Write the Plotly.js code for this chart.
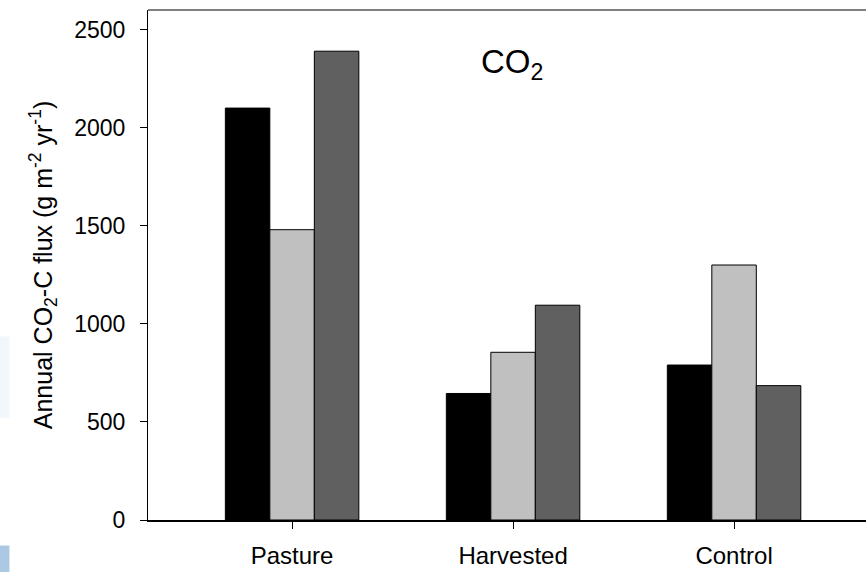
<!DOCTYPE html>
<html>
<head>
<meta charset="utf-8">
<script src="https://cdn.plot.ly/plotly-3.0.1.min.js"></script>
<style>html,body{margin:0;padding:0;background:#fff;}#chart{width:866px;height:572px;}</style>
</head>
<body>
<div id="chart"></div>
<script>
var categories = ["Pasture", "Harvested", "Control"];
var seriesNames = ["Series 1", "Series 2", "Series 3"];
var series1 = [2100, 645, 790];
var series2 = [1480, 855, 1300];
var series3 = [2390, 1095, 685];
var seriesColors = ["#000000", "#c0c0c0", "#606060"];
var yTickVals = [0, 500, 1000, 1500, 2000, 2500];

var FONT = "Liberation Sans, Arial, sans-serif";
var allSeries = [series1, series2, series3];
var traces = allSeries.map(function (vals, i) {
  return {
    type: "bar",
    name: seriesNames[i],
    x: categories,
    y: vals,
    marker: { color: seriesColors[i], line: { color: "#000000", width: 1 } },
    hoverinfo: "x+y"
  };
});

var layout = {
  width: 866,
  height: 572,
  margin: { l: 148, r: 0, t: 10, b: 52 },
  paper_bgcolor: "#ffffff",
  plot_bgcolor: "#ffffff",
  showlegend: false,
  barmode: "group",
  bargap: 0.396,
  bargroupgap: 0,
  font: { family: FONT, color: "#000000" },
  xaxis: {
    type: "category",
    range: [-0.652, 2.597],
    showgrid: false,
    zeroline: false,
    showline: true,
    linecolor: "#000000",
    linewidth: 2,
    ticks: "outside",
    ticklen: 7,
    tickwidth: 1,
    tickcolor: "#000000",
    ticklabelstandoff: 6,
    tickfont: { family: FONT, size: 24, color: "#000000" }
  },
  yaxis: {
    range: [0, 2600],
    tickvals: yTickVals,
    showgrid: false,
    zeroline: false,
    showline: true,
    linecolor: "#000000",
    linewidth: 1,
    ticks: "outside",
    ticklen: 7,
    tickwidth: 1,
    tickcolor: "#000000",
    ticklabelstandoff: 10,
    tickfont: { family: FONT, size: 23, color: "#000000" },
    title: {
      text: "Annual CO<sub>2</sub>-C flux (g m<sup>-2</sup> yr<sup>-1</sup>)",
      font: { family: FONT, size: 25, color: "#000000" },
      standoff: 14
    }
  },
  shapes: [
    { type: "line", xref: "paper", yref: "paper", x0: 0, x1: 1, y0: 1, y1: 1,
      line: { color: "#000000", width: 1 } },
    { type: "rect", xref: "paper", yref: "paper", x0: -0.207, x1: -0.193, y0: 0.2, y1: 0.36,
      line: { width: 0 }, fillcolor: "#e8f1f8", opacity: 0.6, layer: "below" },
    { type: "rect", xref: "paper", yref: "paper", x0: -0.207, x1: -0.193, y0: -0.103, y1: -0.05,
      line: { width: 0 }, fillcolor: "#9cc0de", opacity: 0.85, layer: "below" }
  ],
  annotations: [
    { text: "CO<sub>2</sub>", xref: "paper", yref: "paper", x: 0.461, y: 0.94,
      xanchor: "left", yanchor: "top", showarrow: false,
      font: { family: FONT, size: 33, color: "#000000" } }
  ]
};

Plotly.newPlot("chart", traces, layout, { displayModeBar: false, staticPlot: true });
</script>
</body>
</html>
